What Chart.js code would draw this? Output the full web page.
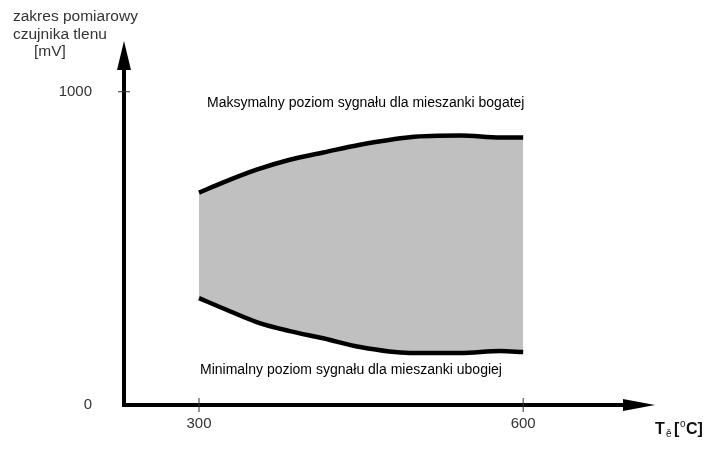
<!DOCTYPE html>
<html>
<head>
<meta charset="utf-8">
<script src="https://cdn.jsdelivr.net/npm/chart.js@4"></script>
<style>
  body { margin: 0; background: #fff; }
</style>
</head>
<body>
<canvas id="myChart" width="720" height="453"></canvas>
<script>
// temperature [°C] and signal bounds [mV]
const temps = [300, 322, 354, 384, 415, 449, 495, 542, 579, 600];
const upperMv = [678, 710, 752, 783, 806, 831, 855, 860, 854, 854];
const lowerMv = [341, 309, 264, 236, 213, 185, 166, 166, 172, 169];
const xTicks = [300, 600];
const yTicks = [0, 1000];

const FONT = "'Liberation Sans', Arial, sans-serif";

const toPoints = (vals) => temps.map((t, i) => ({ x: t, y: vals[i] }));

// axes with arrows + the labels around the plot
const decor = {
  id: 'decor',
  afterDatasetsDraw(chart) {
    const ctx = chart.ctx;
    const xs = chart.scales.x, ys = chart.scales.y;
    const x0 = xs.getPixelForValue(xs.min), y0 = ys.getPixelForValue(0);
    const xEnd = xs.getPixelForValue(xs.max), yEnd = ys.getPixelForValue(ys.max);
    ctx.save();
    ctx.strokeStyle = '#000';
    ctx.fillStyle = '#000';
    ctx.lineWidth = 4;
    ctx.beginPath();
    ctx.moveTo(x0, yEnd + 20);
    ctx.lineTo(x0, y0);
    ctx.lineTo(xEnd - 25, y0);
    ctx.stroke();
    // arrow heads
    ctx.beginPath();
    ctx.moveTo(x0, yEnd);
    ctx.lineTo(x0 - 7, yEnd + 29);
    ctx.lineTo(x0 + 7, yEnd + 29);
    ctx.closePath();
    ctx.fill();
    ctx.beginPath();
    ctx.moveTo(xEnd, y0);
    ctx.lineTo(xEnd - 32, y0 - 6);
    ctx.lineTo(xEnd - 32, y0 + 6);
    ctx.closePath();
    ctx.fill();
    // tick marks
    ctx.lineWidth = 1;
    ctx.strokeStyle = '#333';
    xTicks.forEach(v => {
      const px = xs.getPixelForValue(v);
      ctx.beginPath();
      ctx.moveTo(px, y0 - 7);
      ctx.lineTo(px, y0 + 7);
      ctx.stroke();
    });
    yTicks.filter(v => v > 0).forEach(v => {
      const py = ys.getPixelForValue(v);
      ctx.beginPath();
      ctx.moveTo(x0 - 6, py);
      ctx.lineTo(x0 + 6, py);
      ctx.stroke();
    });
    // y axis caption
    ctx.fillStyle = '#333';
    ctx.font = '15.5px ' + FONT;
    ctx.textBaseline = 'middle';
    ctx.textAlign = 'left';
    ctx.fillText('zakres pomiarowy', 13, 17);
    ctx.fillText('czujnika tlenu', 13, 35);
    ctx.fillText('[mV]', 34, 52);
    // band annotations
    ctx.fillStyle = '#000';
    ctx.font = '14px ' + FONT;
    ctx.fillText('Maksymalny poziom sygnału dla mieszanki bogatej', 207, 103);
    ctx.fillText('Minimalny poziom sygnału dla mieszanki ubogiej', 200, 370);
    // x axis caption  T_ě [°C]
    ctx.fillStyle = '#111';
    ctx.font = 'bold 16px ' + FONT;
    ctx.fillText('T', 655, 430);
    ctx.font = '10px ' + FONT;
    ctx.fillText('ě', 666, 434);
    ctx.font = 'bold 16px ' + FONT;
    ctx.fillText('[', 674, 430);
    ctx.font = '10px ' + FONT;
    ctx.fillText('o', 680, 424);
    ctx.font = 'bold 16px ' + FONT;
    ctx.fillText('C]', 686, 430);
    ctx.restore();
  }
};

new Chart(document.getElementById('myChart').getContext('2d'), {
  type: 'scatter',
  data: {
    datasets: [{
      label: 'max',
      data: toPoints(upperMv),
      showLine: true,
      fill: '+1',
      backgroundColor: '#c0c0c0',
      borderColor: '#000',
      borderWidth: 4.5,
      pointRadius: 0,
      cubicInterpolationMode: 'monotone'
    }, {
      label: 'min',
      data: toPoints(lowerMv),
      showLine: true,
      fill: false,
      borderColor: '#000',
      borderWidth: 4.5,
      pointRadius: 0,
      cubicInterpolationMode: 'monotone'
    }]
  },
  options: {
    responsive: false,
    animation: false,
    layout: { padding: { top: 40, right: 65, left: 0, bottom: 0 } },
    plugins: {
      legend: { display: false },
      tooltip: { enabled: false },
      filler: { drawTime: 'beforeDatasetsDraw' }
    },
    scales: {
      x: {
        type: 'linear',
        min: 230.6,
        max: 722,
        grid: { display: false, drawTicks: false },
        border: { display: false },
        afterBuildTicks: (s) => { s.ticks = xTicks.map(v => ({ value: v })); },
        afterFit: (s) => { s.height = 48; },
        ticks: { color: '#333', padding: 10, font: { family: FONT, size: 15 }, callback: (v) => String(v) }
      },
      y: {
        min: 0,
        max: 1162,
        grid: { display: false, drawTicks: false },
        border: { display: false },
        afterBuildTicks: (s) => { s.ticks = yTicks.map(v => ({ value: v })); },
        afterFit: (s) => { s.width = 124; },
        ticks: { color: '#333', padding: 32, font: { family: FONT, size: 15 }, callback: (v) => String(v) }
      }
    }
  },
  plugins: [decor]
});
</script>
</body>
</html>
